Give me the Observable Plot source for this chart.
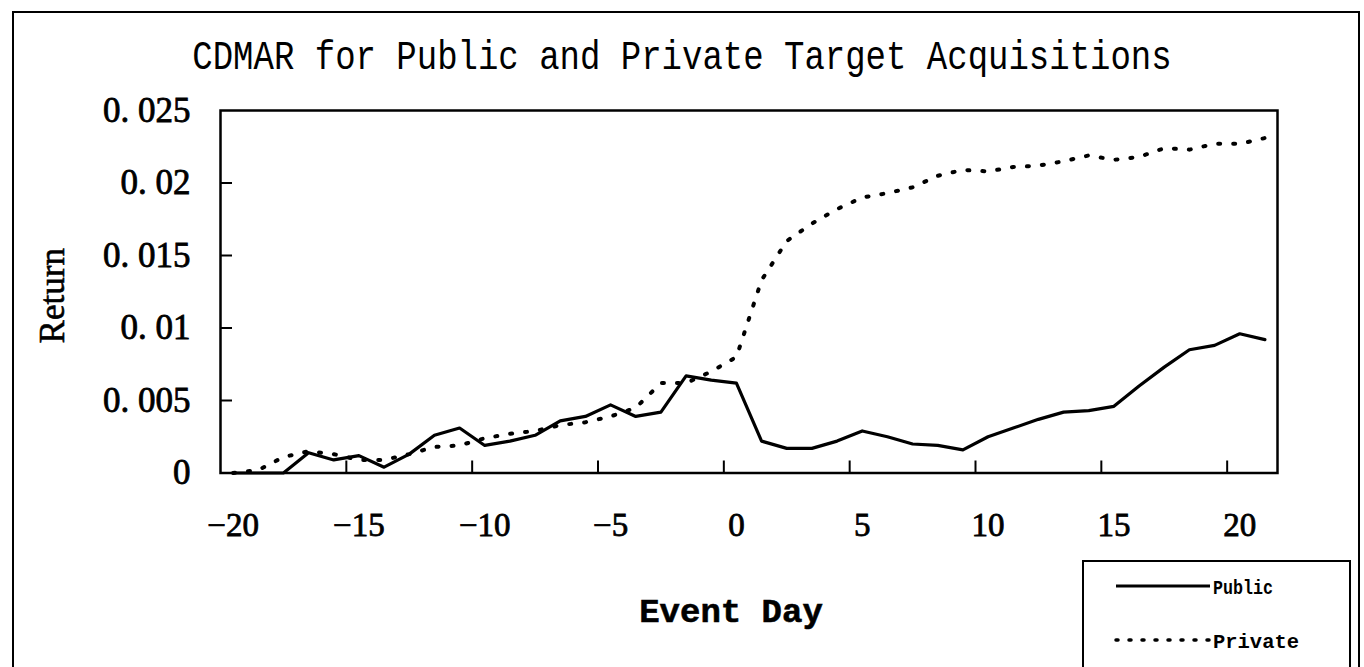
<!DOCTYPE html>
<html>
<head>
<meta charset="utf-8">
<script src="https://cdn.jsdelivr.net/npm/d3@7"></script>
<script src="https://cdn.jsdelivr.net/npm/@observablehq/plot@0.6"></script>
<style>
  body { margin: 0; background: #fff; }
  #wrap { position: relative; width: 1364px; height: 667px; overflow: hidden; background: #fff; }
  #outer { position: absolute; left: 12px; top: 11px; width: 1348px; height: 720px; border: 2px solid #000; box-sizing: border-box; }
  #title { position: absolute; left: 0; top: 38px; width: 1364px; text-align: center; font-family: "Liberation Mono", monospace; font-size: 34px; line-height: 40px; color: #000; transform: scaleY(1.22); transform-origin: 50% 50%; }
  #chart { position: absolute; left: 0; top: 0; }
  #chart g[aria-label$="tick label"] text { stroke: #000; stroke-width: 0.8px; }
  #chart g[aria-label="text"] text { stroke: #000; stroke-width: 0.6px; }
  #legend { position: absolute; left: 1082px; top: 560px; width: 269px; height: 160px; border: 2px solid #000; box-sizing: border-box; background: #fff; }
  #legend svg { position: absolute; left: 0; top: 0; }
</style>
</head>
<body>
<div id="wrap">
  <div id="outer"></div>
  <div id="title">CDMAR for Public and Private Target Acquisitions</div>
  <div id="chart"></div>
  <div id="legend"></div>
</div>
<script>
// ---- data ----
const days = [-20,-19,-18,-17,-16,-15,-14,-13,-12,-11,-10,-9,-8,-7,-6,-5,-4,-3,-2,-1,0,1,2,3,4,5,6,7,8,9,10,11,12,13,14,15,16,17,18,19,20,21];
const publicCDMAR = [0,0,0,0.0014,0.0009,0.0012,0.0004,0.0013,0.0026,0.0031,0.0019,0.0022,0.0026,0.0036,0.0039,0.0047,0.0039,0.0042,0.0067,0.0064,0.0062,0.0022,0.0017,0.0017,0.0022,0.0029,0.0025,0.0020,0.0019,0.0016,0.0025,0.0031,0.0037,0.0042,0.0043,0.0046,0.0060,0.0073,0.0085,0.0088,0.0096,0.0092];
const privateCDMAR = [0,0.0002,0.0011,0.0015,0.0013,0.0009,0.0009,0.0013,0.0018,0.0019,0.0024,0.0027,0.0029,0.0033,0.0035,0.0039,0.0045,0.0062,0.0062,0.0070,0.0080,0.0133,0.0160,0.0172,0.0182,0.0190,0.0193,0.0197,0.0205,0.0209,0.0208,0.0211,0.0212,0.0215,0.0219,0.0216,0.0218,0.0224,0.0223,0.0227,0.0227,0.0231];
const seriesNames = ["Public", "Private"];
const yTickValues = [0, 0.005, 0.01, 0.015, 0.02, 0.025];
const xTickLabels = [-20, -15, -10, -5, 0, 5, 10, 15, 20];

// category bands: each event day occupies one band; tick marks sit on band boundaries
const xDomain = [days[0] - 0.5, days[days.length - 1] + 0.5];
const xTickMarks = xTickLabels.map(d => d - 0.5).filter(d => d > xDomain[0]);
const yInnerTicks = yTickValues.filter(v => v > 0 && v < 0.025);

const rows = days.flatMap((d, i) => [
  {day: d, value: publicCDMAR[i], series: seriesNames[0]},
  {day: d, value: privateCDMAR[i], series: seriesNames[1]}
]);

const fmtY = v => v === 0 ? "0" : "0. " + String(v).slice(2);
const fmtX = d => d < 0 ? "\u2212" + (-d) : String(d);

const chart = Plot.plot({
  width: 1364,
  height: 667,
  marginLeft: 220,
  marginRight: 87,
  marginTop: 110,
  marginBottom: 194.5,
  style: {background: "transparent", fontFamily: "Liberation Serif", color: "#000"},
  x: {domain: xDomain, label: null},
  y: {domain: [0, 0.025], label: null},
  marks: [
    Plot.line(rows.filter(r => r.series === "Public"), {x: "day", y: "value", stroke: "#000", strokeWidth: 3.2, strokeLinejoin: "round"}),
    Plot.line(rows.filter(r => r.series === "Private"), {x: "day", y: "value", stroke: "#000", strokeWidth: 4, strokeDasharray: "2 13", strokeLinecap: "round"}),
    Plot.frame({stroke: "#000", strokeWidth: 2.5}),
    Plot.axisY(yInnerTicks, {tickSize: -12, strokeWidth: 2, tickFormat: () => "", label: null}),
    Plot.axisY(yTickValues, {tickSize: 0, tickPadding: 30, tickFormat: fmtY, fontSize: 35, fontFamily: "Liberation Serif", letterSpacing: "3px", label: null}),
    Plot.axisX(xTickMarks, {tickSize: -12, strokeWidth: 2, tickFormat: () => "", label: null}),
    Plot.axisX(xTickLabels, {tickSize: 0, tickPadding: 40, tickFormat: fmtX, fontSize: 33, fontFamily: "Liberation Serif", label: null}),
    Plot.text(["Return"], {frameAnchor: "left", dx: -168, dy: 4, rotate: -90, textAnchor: "middle", text: d => d, fontSize: 35, fontFamily: "Liberation Serif", fill: "#000"}),
    Plot.text(["Event Day"], {frameAnchor: "bottom", dx: -18, dy: 149, textAnchor: "middle", text: d => d, fontSize: 34, fontWeight: "bold", fontFamily: "Liberation Mono", fill: "#000", letterSpacing: "3px"})
  ]
});
document.getElementById("chart").appendChild(chart);

// ---- legend ----
const lg = d3.select("#legend").append("svg").attr("width", 269).attr("height", 160);
const legendItems = [
  {name: seriesNames[0], y: 24, dash: null, width: 3, len: 60},
  {name: seriesNames[1], y: 78, dash: "2 11", width: 3.5, len: 86}
];
legendItems.forEach(it => {
  lg.append("line").attr("x1", 32).attr("x2", 126).attr("y1", it.y).attr("y2", it.y)
    .attr("stroke", "#000").attr("stroke-width", it.width)
    .attr("stroke-dasharray", it.dash).attr("stroke-linecap", it.dash ? "round" : "butt");
  lg.append("text").attr("x", 129).attr("y", it.y).attr("dy", "0.36em")
    .attr("font-family", "Liberation Mono").attr("font-weight", "bold").attr("font-size", 21)
    .attr("textLength", it.len).attr("lengthAdjust", "spacingAndGlyphs")
    .attr("fill", "#000").text(it.name);
});
</script>
</body>
</html>
